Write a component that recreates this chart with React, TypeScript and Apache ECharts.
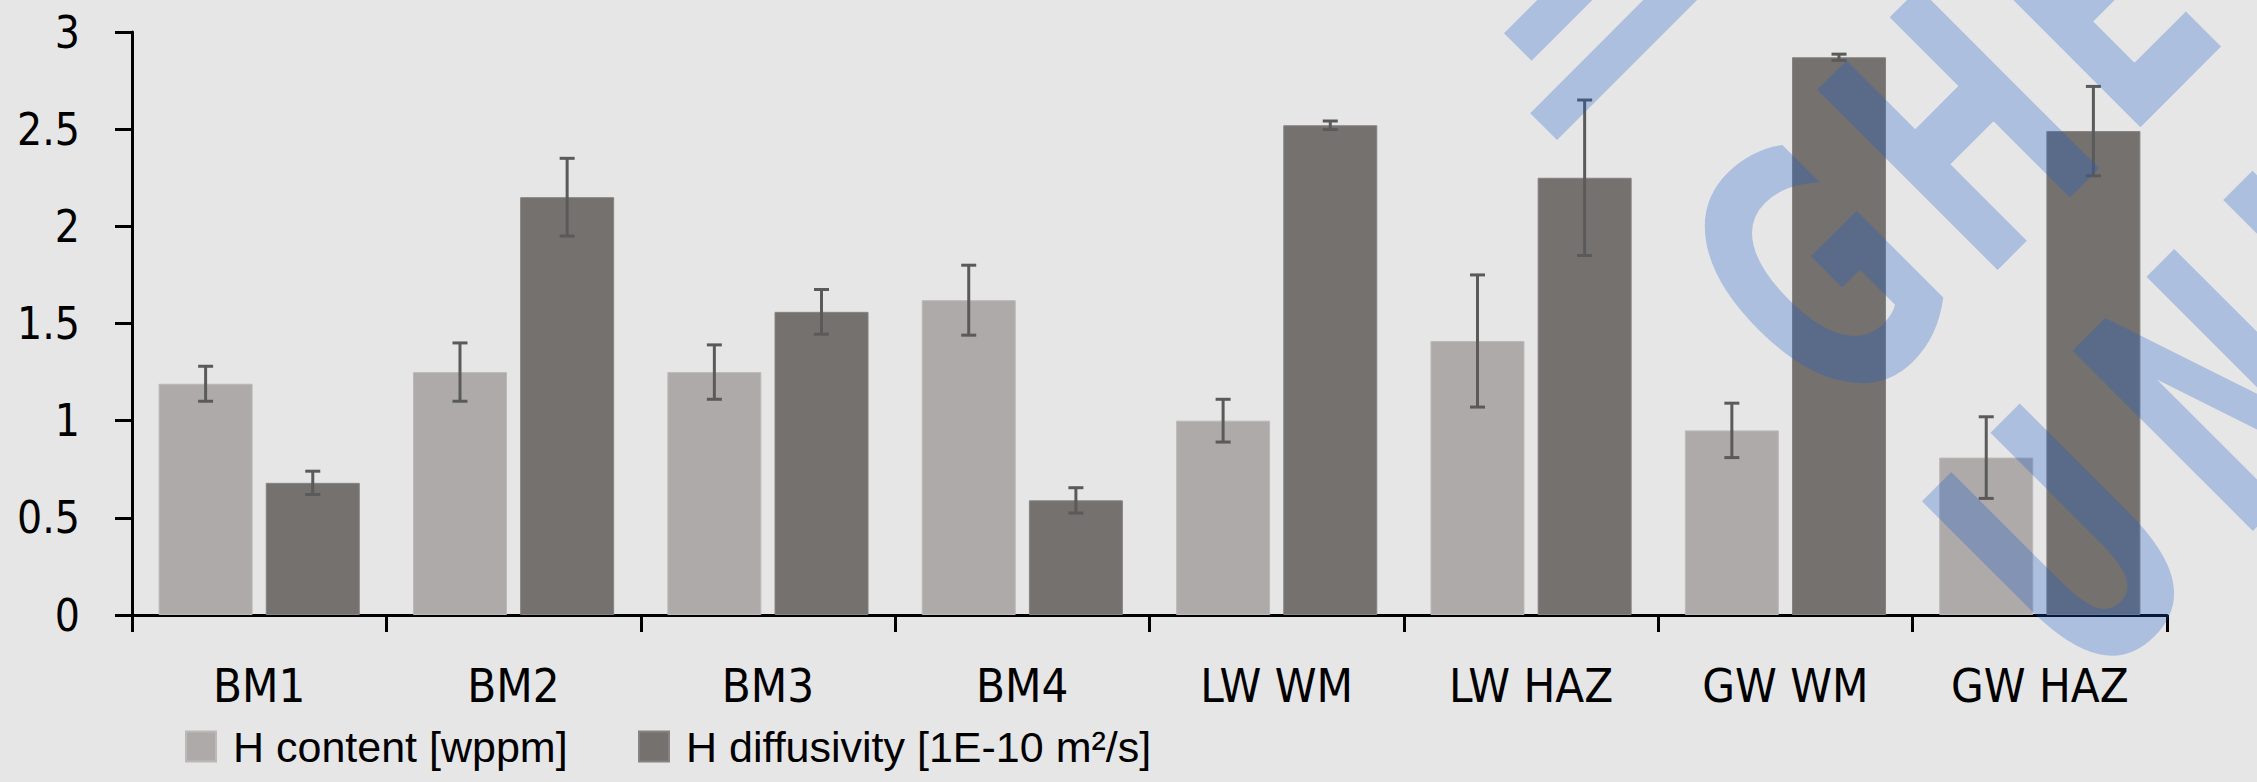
import React, { useEffect, useRef } from "react";
import * as echarts from "echarts";

// ---------- data ----------
const categories = ["BM1", "BM2", "BM3", "BM4", "LW WM", "LW HAZ", "GW WM", "GW HAZ"];
const seriesNames = ["H content [wppm]", "H diffusivity [1E-10 m²/s]"];
const hContent = [1.19, 1.25, 1.25, 1.62, 1.0, 1.41, 0.95, 0.81];
const hContentErr = [0.09, 0.15, 0.14, 0.18, 0.11, 0.34, 0.14, 0.21];
const hDiffusivity = [0.68, 2.15, 1.56, 0.59, 2.52, 2.25, 2.87, 2.49];
const hDiffusivityErr = [0.06, 0.2, 0.115, 0.065, 0.022, 0.4, 0.016, 0.23];
const yMin = 0;
const yMax = 3;
const yInterval = 0.5;

// watermark letters that fall inside the picture (decoration)
const watermarkLine1 = ["G", "H", "E"];
const watermarkLine2 = ["U", "N", "I"];

// ---------- style ----------
const W = 2257;
const H = 782;
const BG = "#e6e6e6";
const LIGHT = "#aeaaa9";
const DARK = "#75716f";
const ERR = "#5a5a5a";
const BAR_W = 94;
const BAR_GAP = 0.14;
const CAP = 15;
const NARROW = "'Liberation Sans Narrow', 'DejaVu Sans Condensed', 'Liberation Sans', sans-serif";
const REGULAR = "'Liberation Sans', Arial, sans-serif";

const WM_COLOR = "rgba(20, 90, 205, 0.28)";
const WM_FONT = 220;
const WM_SCALE_Y = 1.59;

function toScreen(e1: number, e2: number): [number, number] {
  return [(e1 - e2) / Math.SQRT2, -(e1 + e2) / Math.SQRT2];
}

function letterEl(ch: string, left: number, base: number) {
  const [x, y] = toScreen(left - 0.08 * WM_FONT, base + 127.5);
  return {
    type: "text",
    x,
    y,
    rotation: Math.PI / 4,
    scaleY: WM_SCALE_Y,
    z: 100,
    silent: true,
    style: {
      text: ch,
      font: `bold ${WM_FONT}px 'DejaVu Sans', sans-serif`,
      fill: WM_COLOR,
      textAlign: "left",
      textVerticalAlign: "middle",
      verticalAlign: "middle",
    },
  };
}

function bandEl(e1a: number, e1b: number, e2top: number, e2bot: number) {
  const [x, y] = toScreen(e1a, e2top);
  return {
    type: "rect",
    x,
    y,
    rotation: Math.PI / 4,
    z: 100,
    silent: true,
    shape: { x: 0, y: 0, width: e1b - e1a, height: e2top - e2bot },
    style: { fill: WM_COLOR },
  };
}

function buildWatermark() {
  const els: any[] = [];
  watermarkLine1.forEach((ch, i) => els.push(letterEl(ch, 1017 + 202 * i, -1610)));
  watermarkLine2.forEach((ch, i) => els.push(letterEl(ch, 1002 + 213 * i, -1975)));
  els.push(bandEl(1002, 1500, -1162, -1200));
  els.push(bandEl(1040, 1400, -1087, -1126));
  return els;
}

function errorSeries(name: string, values: number[], errs: number[], offset: number) {
  return {
    type: "custom",
    name,
    silent: true,
    z: 5,
    data: values.map((v, i) => [i, v, errs[i]]),
    encode: { x: 0, y: 1 },
    renderItem: (_params: any, api: any) => {
      const i = api.value(0);
      const v = api.value(1);
      const e = api.value(2);
      const top = api.coord([i, v + e]);
      const bot = api.coord([i, v - e]);
      const x = top[0] + offset;
      const h = CAP / 2;
      const st = { stroke: ERR, lineWidth: 3 };
      return {
        type: "group",
        children: [
          { type: "line", shape: { x1: x, y1: top[1], x2: x, y2: bot[1] }, style: st },
          { type: "line", shape: { x1: x - h, y1: top[1], x2: x + h, y2: top[1] }, style: st },
          { type: "line", shape: { x1: x - h, y1: bot[1], x2: x + h, y2: bot[1] }, style: st },
        ],
      };
    },
  };
}

export default function App() {
  const ref = useRef<HTMLDivElement>(null);

  useEffect(() => {
    document.body.style.margin = "0";
    document.body.style.background = BG;
    if (!ref.current) return;
    const chart = echarts.init(ref.current, undefined, { renderer: "svg" });
    const off = (BAR_W * (1 + BAR_GAP)) / 2;
    const legendCommon = {
      orient: "horizontal",
      top: 720,
      padding: 5,
      itemWidth: 30,
      itemHeight: 30,
      icon: "rect",
      textStyle: {
        fontFamily: REGULAR,
        fontSize: 43,
        color: "#000",
        padding: [0, 0, 0, 12],
      },
    };
    chart.setOption({
      animation: false,
      backgroundColor: BG,
      grid: { left: 132, right: 90, top: 32, bottom: 167, containLabel: false },
      legend: [
        { ...legendCommon, left: 180, data: [seriesNames[0]] },
        { ...legendCommon, left: 633, data: [seriesNames[1]] },
      ],
      xAxis: {
        type: "category",
        data: categories,
        boundaryGap: true,
        axisLine: { show: true, lineStyle: { color: "#000", width: 3 } },
        axisTick: { show: true, length: 17, interval: 0, lineStyle: { color: "#000", width: 3 } },
        axisLabel: {
          interval: 0,
          margin: 47,
          fontSize: 47,
          fontFamily: NARROW,
          color: "#000",
        },
        splitLine: { show: false },
      },
      yAxis: {
        type: "value",
        min: yMin,
        max: yMax,
        interval: yInterval,
        axisLine: { show: true, lineStyle: { color: "#000", width: 3 } },
        axisTick: { show: true, length: 17, lineStyle: { color: "#000", width: 3 } },
        axisLabel: {
          margin: 52,
          fontSize: 44,
          fontFamily: NARROW,
          color: "#000",
        },
        splitLine: { show: false },
      },
      series: [
        {
          type: "bar",
          name: seriesNames[0],
          data: hContent,
          barWidth: BAR_W,
          barGap: `${BAR_GAP * 100}%`,
          itemStyle: { color: LIGHT, borderColor: "#bcb9b8", borderWidth: 1 },
        },
        {
          type: "bar",
          name: seriesNames[1],
          data: hDiffusivity,
          barWidth: BAR_W,
          barGap: `${BAR_GAP * 100}%`,
          itemStyle: { color: DARK, borderColor: "#868281", borderWidth: 1 },
        },
        errorSeries("H content error", hContent, hContentErr, -off),
        errorSeries("H diffusivity error", hDiffusivity, hDiffusivityErr, off),
      ],
      graphic: buildWatermark(),
    });
    return () => chart.dispose();
  }, []);

  return (
    <div
      ref={ref}
      style={{ position: "absolute", left: 0, top: 0, width: W, height: H }}
    />
  );
}
